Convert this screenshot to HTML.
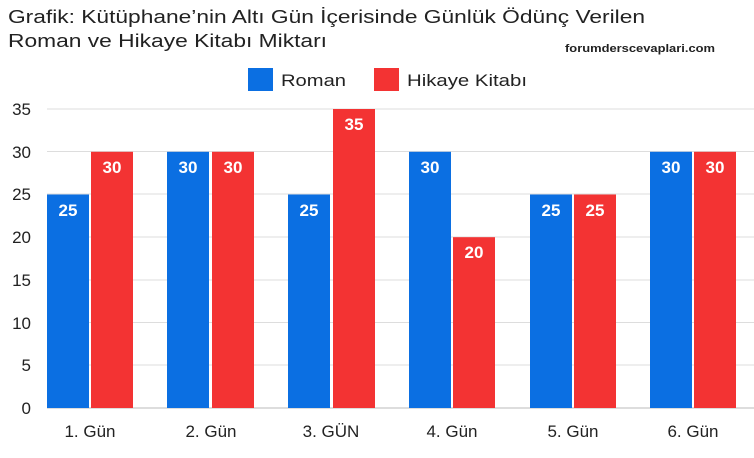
<!DOCTYPE html>
<html><head><meta charset="utf-8"><style>
body{margin:0;background:#fff;width:754px;height:453px;overflow:hidden}
svg text{font-family:"Liberation Sans","DejaVu Sans",sans-serif}
</style></head><body>
<svg width="754" height="453" xmlns="http://www.w3.org/2000/svg">
<text x="8" y="23" font-size="18" fill="#222" textLength="637" lengthAdjust="spacingAndGlyphs">Grafik: Kütüphane’nin Altı Gün İçerisinde Günlük Ödünç Verilen</text>
<text x="8" y="47" font-size="18" fill="#222" textLength="319" lengthAdjust="spacingAndGlyphs">Roman ve Hikaye Kitabı Miktarı</text>
<text x="565" y="52" font-size="11" font-weight="bold" fill="#222" textLength="150" lengthAdjust="spacingAndGlyphs">forumderscevaplari.com</text>
<rect x="248" y="68" width="25" height="23" fill="#0b6fe2"/>
<text x="281" y="86" font-size="17" fill="#222" textLength="65" lengthAdjust="spacingAndGlyphs">Roman</text>
<rect x="374" y="68" width="25" height="23" fill="#f33333"/>
<text x="407" y="86" font-size="17" fill="#222" textLength="120" lengthAdjust="spacingAndGlyphs">Hikaye Kitabı</text>
<g stroke="#ddd" stroke-width="1">
<line x1="47" x2="754" y1="109" y2="109"/><line x1="47" x2="754" y1="151.5" y2="151.5"/>
<line x1="47" x2="754" y1="194" y2="194"/><line x1="47" x2="754" y1="237" y2="237"/>
<line x1="47" x2="754" y1="280" y2="280"/><line x1="47" x2="754" y1="322.5" y2="322.5"/>
<line x1="47" x2="754" y1="365" y2="365"/>
</g>
<line x1="47" x2="754" y1="408" y2="408" stroke="#bbb"/>
<g font-size="17" fill="#222" text-anchor="end">
<text x="31" y="115">35</text><text x="31" y="158">30</text><text x="31" y="200">25</text>
<text x="31" y="243">20</text><text x="31" y="286">15</text><text x="31" y="329">10</text>
<text x="31" y="371">5</text><text x="31" y="414">0</text>
</g>
<g font-size="17" font-weight="bold" fill="#fff" text-anchor="middle">
<rect x="47" y="194.5" width="42" height="213.5" fill="#0b6fe2"/><text x="68" y="216">25</text>
<rect x="91" y="151.8" width="42" height="256.2" fill="#f33333"/><text x="112" y="173">30</text>
<rect x="167" y="151.8" width="42" height="256.2" fill="#0b6fe2"/><text x="188" y="173">30</text>
<rect x="212" y="151.8" width="42" height="256.2" fill="#f33333"/><text x="233" y="173">30</text>
<rect x="288" y="194.5" width="42" height="213.5" fill="#0b6fe2"/><text x="309" y="216">25</text>
<rect x="333" y="109" width="42" height="299" fill="#f33333"/><text x="354" y="130">35</text>
<rect x="409" y="151.8" width="42" height="256.2" fill="#0b6fe2"/><text x="430" y="173">30</text>
<rect x="453" y="237.2" width="42" height="170.8" fill="#f33333"/><text x="474" y="258">20</text>
<rect x="530" y="194.5" width="42" height="213.5" fill="#0b6fe2"/><text x="551" y="216">25</text>
<rect x="574" y="194.5" width="42" height="213.5" fill="#f33333"/><text x="595" y="216">25</text>
<rect x="650" y="151.8" width="42" height="256.2" fill="#0b6fe2"/><text x="671" y="173">30</text>
<rect x="694" y="151.8" width="42" height="256.2" fill="#f33333"/><text x="715" y="173">30</text>
</g>
<g font-size="17" fill="#222" text-anchor="middle">
<text x="90" y="437">1. Gün</text><text x="211" y="437">2. Gün</text><text x="331" y="437">3. GÜN</text>
<text x="452" y="437">4. Gün</text><text x="573" y="437">5. Gün</text><text x="693" y="437">6. Gün</text>
</g>
</svg>
</body></html>
